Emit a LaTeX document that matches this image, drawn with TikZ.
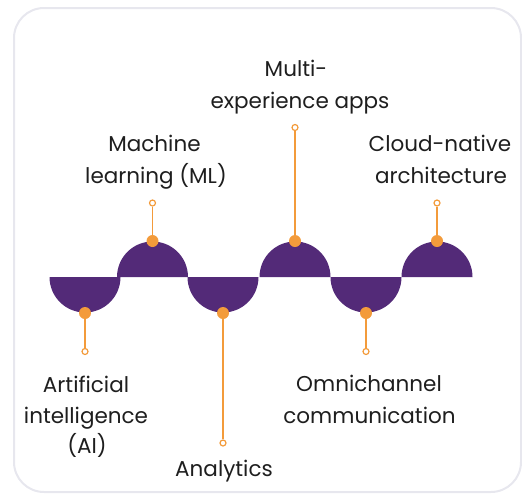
\documentclass[tikz,border=0pt]{standalone}
\usepackage{fontspec}
\setmainfont{Poppins}
\definecolor{wavepurple}{HTML}{532A78}
\definecolor{dotorange}{HTML}{F39B3B}
\definecolor{labeltext}{HTML}{1E1E1E}
\definecolor{framegray}{HTML}{E7E7EE}
\tikzset{
  bigdot/.style={circle, fill=dotorange, inner sep=0pt, minimum size=12pt},
  enddot/.style={circle, draw=dotorange, fill=white, line width=1.2pt, inner sep=0pt, minimum size=6pt},
  stem/.style={draw=dotorange, line width=1.4pt},
  lbl/.style={anchor=base, inner sep=0pt, text=labeltext, font=\fontsize{21.5}{26}\selectfont},
}
\begin{document}
\begin{tikzpicture}[x=1pt, y=-1pt]
\useasboundingbox (0,0) rectangle (522,493);
\draw[framegray, line width=2pt, rounded corners=30pt] (14,8) rectangle (521,492);
% wave
\foreach \cx in {85,223,366} {
  \fill[wavepurple] (\cx-35.5,277) arc[start angle=180, end angle=360, radius=35.5pt] -- cycle;
}
\foreach \cx in {152.5,295,437} {
  \fill[wavepurple] (\cx-35.5,277) arc[start angle=180, end angle=0, radius=35.5pt] -- cycle;
}
% dots and stems
\node[bigdot] (d1) at (85,313) {};
\node[bigdot] (d2) at (152.5,241) {};
\node[bigdot] (d3) at (223,313) {};
\node[bigdot] (d4) at (295,241) {};
\node[bigdot] (d5) at (366,313) {};
\node[bigdot] (d6) at (437,241) {};
\node[enddot] (e1) at (85,351.5) {};
\node[enddot] (e2) at (152.5,203) {};
\node[enddot] (e3) at (223,443) {};
\node[enddot] (e4) at (295,127.5) {};
\node[enddot] (e5) at (366,351.5) {};
\node[enddot] (e6) at (437,203) {};
\foreach \i in {1,...,6} { \draw[stem] (d\i) -- (e\i); }
% labels
\node[lbl] (t4a) at (296,76.7) {Multi-};
\node[lbl] (t4b) at (300,108) {experience apps};
\node[lbl] (t2a) at (154.5,151.7) {Machine};
\node[lbl] (t2b) at (156,183) {learning (ML)};
\node[lbl] (t6a) at (440,151.7) {Cloud-native};
\node[lbl] (t6b) at (441,183) {architecture};
\node[lbl] (t1a) at (86,392) {Artificial};
\node[lbl] (t1b) at (86,423) {intelligence};
\node[lbl] (t1c) at (87,453) {(AI)};
\node[lbl] (t5a) at (369,391.7) {Omnichannel};
\node[lbl] (t5b) at (369.5,423) {communication};
\node[lbl] (t3) at (224,476.7) {Analytics};
\end{tikzpicture}
\end{document}
